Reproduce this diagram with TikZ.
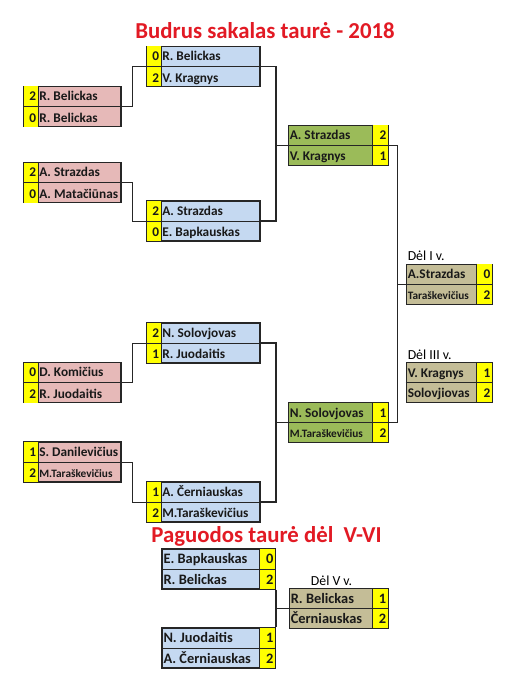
\documentclass[tikz,border=0pt]{standalone}
\usepackage{fontspec}
\setmainfont{Carlito}
\usepackage{tikz}
\definecolor{pinkfill}{RGB}{230,185,184}
\definecolor{bluefill}{RGB}{197,217,241}
\definecolor{greenfill}{RGB}{155,187,89}
\definecolor{tanfill}{RGB}{196,189,151}
\definecolor{scorefill}{RGB}{255,255,0}
\definecolor{titlered}{RGB}{226,26,36}
\newcommand{\cellfont}{\fontsize{13.3}{15}\selectfont\bfseries}
\newcommand{\bigcellfont}{\fontsize{14.4}{16}\selectfont\bfseries}
\newcommand{\smallname}{\fontsize{11.3}{13}\selectfont}
\tikzset{matchbox/.style={rectangle, draw=black!85, line width=1.4pt, minimum height=40pt, inner sep=0pt}, cell/.style={inner sep=0pt, text height=10pt, text depth=0pt, font=\cellfont, text=black!90}, cellline/.style={draw=black!85, line width=1pt}}
% score cell on the left
\newcommand{\scoreleft}[7]{%
  \node[#3] (#1) at (#2) {};
  \fill[scorefill] ([shift={(.7pt,-.7pt)}]#1.north west) rectangle ([shift={(15pt,.7pt)}]#1.south west);
  \draw[cellline] ([xshift=15pt]#1.north west) -- ([xshift=15pt]#1.south west);
  \draw[cellline] (#1.west) -- (#1.east);
  \node[cell, anchor=east] (#1-as) at ([shift={(13pt,-10pt)}]#1.north west) {#4};
  \node[cell, anchor=west] (#1-a) at ([shift={(15.8pt,-10pt)}]#1.north west) {#5};
  \node[cell, anchor=east] (#1-bs) at ([shift={(13pt,10pt)}]#1.south west) {#6};
  \node[cell, anchor=west] (#1-b) at ([shift={(15.8pt,10pt)}]#1.south west) {#7};
}
% score cell on the right
\newcommand{\scoreright}[7]{%
  \node[#3] (#1) at (#2) {};
  \fill[scorefill] ([shift={(-16pt,-.7pt)}]#1.north east) rectangle ([shift={(-.7pt,.7pt)}]#1.south east);
  \draw[cellline] ([xshift=-16pt]#1.north east) -- ([xshift=-16pt]#1.south east);
  \draw[cellline] (#1.west) -- (#1.east);
  \node[cell, anchor=west] (#1-a) at ([shift={(2pt,-10pt)}]#1.north west) {#4};
  \node[cell, anchor=east] (#1-as) at ([shift={(-2pt,-10pt)}]#1.north east) {#5};
  \node[cell, anchor=west] (#1-b) at ([shift={(2pt,10pt)}]#1.south west) {#6};
  \node[cell, anchor=east] (#1-bs) at ([shift={(-2pt,10pt)}]#1.south east) {#7};
}

\begin{document}
\begin{tikzpicture}[
    x=1pt, y=-1pt,
    pinkbox/.style={matchbox, fill=pinkfill, minimum width=97pt},
    bluebox/.style={matchbox, fill=bluefill, minimum width=113pt},
    greenbox/.style={matchbox, fill=greenfill, minimum width=100pt, line width=.9pt},
    tanbox/.style={matchbox, fill=tanfill, minimum width=#1, line width=.9pt},
    tanbox/.default=86pt,
    title/.style={font=\fontsize{22.8}{26}\selectfont\bfseries, text=titlered, inner sep=0pt, anchor=base},
    placelabel/.style={font=\fontsize{13.8}{15}\selectfont, text=black, inner sep=0pt},
    link/.style={draw=black!85, line width=1pt},
    thicklink/.style={draw=black!85, line width=1.7pt}
]
\path[fill=white, use as bounding box] (0,0) rectangle (517,682);

% Titles
\node[title] (title) at (265,39) {Budrus sakalas taurė - 2018};
\node[title] (subtitle) at (266.5,542) {Paguodos taurė dėl\ \ V-VI};

% First round
\scoreleft{p1}{72.5,106.5}{pinkbox}{2}{R. Belickas}{0}{R. Belickas}
\scoreleft{p2}{72.5,182.5}{pinkbox}{2}{A. Strazdas}{0}{A. Matačiūnas}
\scoreleft{p3}{72.5,382.5}{pinkbox}{0}{D. Komičius}{2}{R. Juodaitis}
\scoreleft{p4}{72.5,462}{pinkbox}{1}{S. Danilevičius}{2}{\smallname M.Taraškevičius}

% Quarter finals
\scoreleft{b1}{203.5,66.5}{bluebox}{0}{R. Belickas}{2}{V. Kragnys}
\scoreleft{b2}{203.5,221}{bluebox}{2}{A. Strazdas}{0}{E. Bapkauskas}
\scoreleft{b3}{203.5,343}{bluebox}{2}{N. Solovjovas}{1}{R. Juodaitis}
\scoreleft{b4}{203.5,502}{bluebox}{1}{A. Černiauskas}{2}{M.Taraškevičius}

% Semi finals
\scoreright{g1}{338,145}{greenbox}{A. Strazdas}{2}{V. Kragnys}{1}
\scoreright{g2}{338,422.5}{greenbox}{N. Solovjovas}{1}{\smallname M.Taraškevičius}{2}

% Finals
\scoreright{t1}{449,284}{tanbox}{A.Strazdas}{0}{\smallname Taraškevičius}{2}
\scoreright{t2}{449,382.5}{tanbox}{V. Kragnys}{1}{Solovjiovas}{2}
\node[placelabel, anchor=base west] (first) at ([shift={(2pt,3.5pt)}]t1.north west) {Dėl I v.};
\node[placelabel, anchor=base west] (third) at ([shift={(2pt,3pt)}]t2.north west) {Dėl III v.};

% Consolation
\begin{scope}[cell/.append style={font=\bigcellfont}]
\scoreright{e1}{218.5,569}{bluebox}{E. Bapkauskas}{0}{R. Belickas}{2}
\scoreright{e2}{218.5,648}{bluebox}{N. Juodaitis}{1}{A. Černiauskas}{2}
\scoreright{t3}{338.5,608.5}{tanbox=99pt}{R. Belickas}{1}{Černiauskas}{2}
\end{scope}
\node[placelabel, anchor=base] (fifth) at ([shift={(-7pt,3pt)}]t3.north) {Dėl V v.};

% Paths
\draw[link] (p1.east) -- ++(11,0) |- (b1.west);
\draw[link] (p2.east) -- ++(11,0) |- (b2.west);
\draw[link] (p3.east) -- ++(11,0) |- (b3.west);
\draw[link] (p4.east) -- ++(11,0) |- (b4.west);
\draw[thicklink] (b1.east) -- ++(15,0) coordinate (j1) |- (b2.east);
\draw[thicklink] (b3.east) -- ++(15,0) coordinate (j2) |- (b4.east);
\draw[link] (j1 |- g1.west) -- (g1.west);
\draw[link] (j2 |- g2.west) -- (g2.west);
\draw[link] (g1.east) -- ++(9,0) coordinate (j3) |- (g2.east);
\draw[link] (j3 |- t1.west) -- (t1.west);
\draw[thicklink] (e1.south east) -- (e2.north east);
\draw[link] (t3.west -| e1.east) -- (t3.west);

\end{tikzpicture}
\end{document}
